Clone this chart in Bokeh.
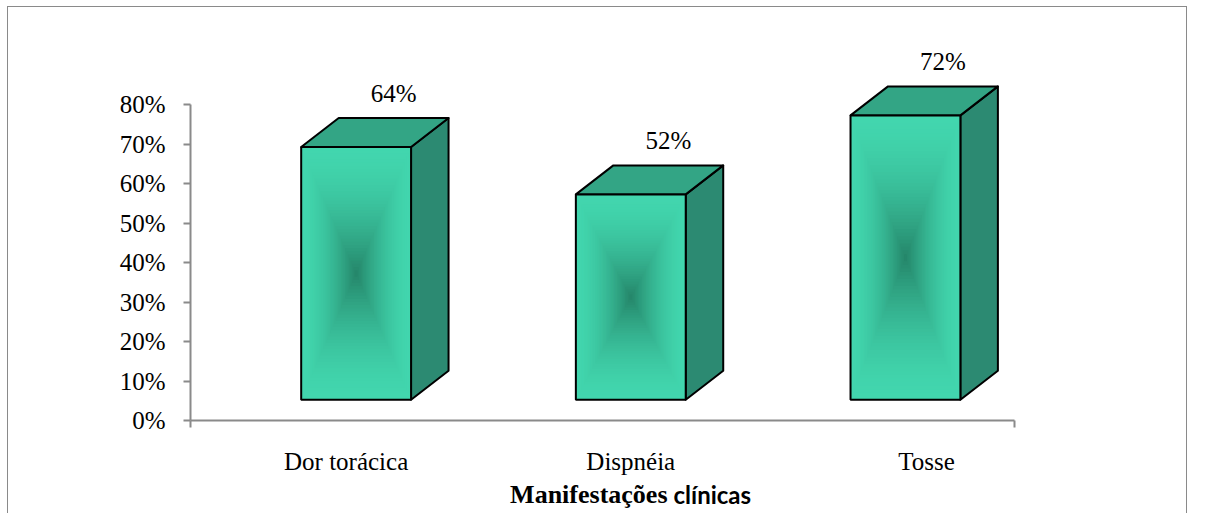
from bokeh.plotting import figure
from bokeh.models import Range1d, FixedTicker, ColumnDataSource
from bokeh.core.properties import value
from bokeh.embed import file_html
from bokeh.resources import INLINE

# ---------------- data ----------------
categories = ["Dor torácica", "Dispnéia", "Tosse"]
values = [64, 52, 72]                      # percent
value_labels = ["64%", "52%", "72%"]
y_ticks = [0, 10, 20, 30, 40, 50, 60, 70, 80]
y_tick_labels = ["0%", "10%", "20%", "30%", "40%", "50%", "60%", "70%", "80%"]
title_part_a = "Manifestações"
title_part_b = "clínicas"

# ---------------- layout constants ----------------
CANVAS_W, CANVAS_H = 1180, 507
FRAME_L, FRAME_T, FRAME_R, FRAME_B = 182, 97, 1006, 413
FRAME_W, FRAME_H = FRAME_R - FRAME_L, FRAME_B - FRAME_T
X_START = -0.603
X_END = X_START + 3
Y_END = 80
PX_X = FRAME_W / (X_END - X_START)
PX_Y = FRAME_H / Y_END
HALF_W = 0.2                 # half width of front face (x units)
DEPTH_X = 37.5 / PX_X        # 3D depth offset
DEPTH_Y = 29.0 / PX_Y
BASE = 20.7 / PX_Y           # bars start slightly above the axis (3D floor)
LABEL_NUDGE_PX = [-10, 0, 21]  # horizontal nudge of category labels (layout)

LIGHT = (66, 214, 174)
DARK = (36, 132, 104)
TOP_COLOR = "#33a585"
SIDE_COLOR = "#2c8a72"
AXIS_COLOR = "#8a8a8a"
FONT = "Liberation Serif"

p = figure(width=CANVAS_W, height=CANVAS_H,
           x_range=Range1d(X_START, X_END), y_range=Range1d(0, Y_END),
           output_backend="svg", toolbar_location=None,
           min_border_left=FRAME_L, min_border_right=CANVAS_W - FRAME_R,
           min_border_top=FRAME_T, min_border_bottom=CANVAS_H - FRAME_B)
p.styles = {"margin-left": "7px", "margin-top": "6px",
            "border-left": "1px solid #8a8a8a",
            "border-top": "1px solid #8a8a8a",
            "border-right": "1px solid #8a8a8a"}
p.grid.visible = False
p.outline_line_color = None
p.background_fill_color = "white"
p.border_fill_color = "white"

# ---------------- y axis ----------------
ya = p.yaxis[0]
ya.ticker = FixedTicker(ticks=y_ticks)
ya.major_label_overrides = {t: s for t, s in zip(y_ticks, y_tick_labels)}
ya.axis_line_color = AXIS_COLOR
ya.axis_line_width = 2
ya.major_tick_line_color = AXIS_COLOR
ya.major_tick_line_width = 2
ya.major_tick_out = 7
ya.major_tick_in = 0
ya.minor_tick_line_color = None
ya.major_label_standoff = 18
ya.major_label_text_font = FONT
ya.major_label_text_font_size = "25px"
ya.major_label_text_color = "black"

# ---------------- x axis ----------------
xpos = list(range(len(categories)))
label_pos = [round(i + n / PX_X, 4) for i, n in zip(xpos, LABEL_NUDGE_PX)]
xa = p.xaxis[0]
xa.ticker = FixedTicker(ticks=label_pos, minor_ticks=[X_START, X_END])
xa.major_label_overrides = {t: c for t, c in zip(label_pos, categories)}
xa.axis_line_color = AXIS_COLOR
xa.axis_line_width = 2
xa.major_tick_line_color = None
xa.major_tick_out = 0
xa.major_tick_in = 0
xa.minor_tick_line_color = AXIS_COLOR
xa.minor_tick_line_width = 2
xa.minor_tick_out = 7
xa.minor_tick_in = 0
xa.major_label_standoff = 20
xa.major_label_text_font = FONT
xa.major_label_text_font_size = "25px"
xa.major_label_text_color = "black"

# ---------------- 3D bars ----------------
side_xs, side_ys, top_xs, top_ys = [], [], [], []
for i, v in zip(xpos, values):
    L, R = i - HALF_W, i + HALF_W
    B, T = BASE, BASE + v
    side_xs.append([R, R + DEPTH_X, R + DEPTH_X, R])
    side_ys.append([B, B + DEPTH_Y, T + DEPTH_Y, T])
    top_xs.append([L, R, R + DEPTH_X, L + DEPTH_X])
    top_ys.append([T, T, T + DEPTH_Y, T + DEPTH_Y])

p.patches(side_xs, side_ys, fill_color=SIDE_COLOR, line_color="black",
          line_width=2, line_join="round", level="overlay")
p.patches(top_xs, top_ys, fill_color=TOP_COLOR, line_color="black",
          line_width=2, line_join="round", level="overlay")

# front face: rectangular "from centre" gradient, simulated by nested quads
N = 40
ql, qr, qb, qt, qc = [], [], [], [], []
for i, v in zip(xpos, values):
    cy = BASE + v / 2
    for k in range(N):
        t = k / N
        g = t ** 1.7
        col = tuple(int(round(LIGHT[j] + (DARK[j] - LIGHT[j]) * g)) for j in range(3))
        hw = HALF_W * (1 - t)
        hh = (v / 2) * (1 - t)
        ql.append(i - hw); qr.append(i + hw)
        qb.append(cy - hh); qt.append(cy + hh)
        qc.append("#%02x%02x%02x" % col)
p.quad(left=ql, right=qr, bottom=qb, top=qt, fill_color=qc, line_color=None,
       level="overlay")

p.quad(left=[i - HALF_W for i in xpos], right=[i + HALF_W for i in xpos],
       bottom=[BASE] * len(xpos), top=[BASE + v for v in values],
       fill_color=None, line_color="black", line_width=2, level="overlay")

# ---------------- value labels ----------------
src = ColumnDataSource(dict(
    x=[i + DEPTH_X for i in xpos],
    y=[BASE + v + DEPTH_Y for v in values],
    t=value_labels))
p.text(x="x", y="y", text="t", source=src, y_offset=-25,
       text_align="center", text_baseline="middle",
       text_font=value(FONT), text_font_size=value("25px"),
       text_color="black", level="overlay")

# ---------------- axis title (two fonts) ----------------
split_x = X_START + (670 - 190) / PX_X
title_y = -74 / PX_Y
p.text(x=[split_x], y=[title_y], text=[title_part_a], x_offset=-3,
       text_align="right", text_baseline="alphabetic",
       text_font=value(FONT), text_font_style="bold",
       text_font_size=value("26px"), text_color="black", level="overlay")
p.text(x=[split_x], y=[title_y], text=[title_part_b], x_offset=3,
       text_align="left", text_baseline="alphabetic",
       text_font=value("Lato"), text_font_style="bold",
       text_font_size=value("24px"), text_color="black", level="overlay")

open("out.html", "w").write(file_html(p, INLINE))
